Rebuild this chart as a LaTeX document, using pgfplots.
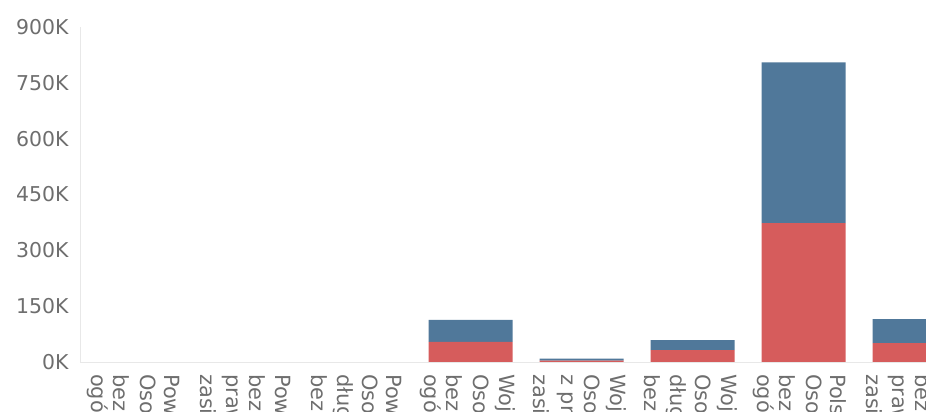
\documentclass[border=0pt]{standalone}
\usepackage{fontspec}
\setmainfont{DejaVu Sans}
\usepackage{pgfplots}
\pgfplotsset{compat=1.18}
\definecolor{barred}{HTML}{D65C5C}
\definecolor{barblue}{HTML}{50789A}
\definecolor{ticktext}{HTML}{6E6E6E}
\begin{document}
\begin{tikzpicture}
\begin{axis}[
    scale only axis,
    width=846bp, height=335bp,
    ybar stacked,
    bar width=0.757,
    xmin=-0.518, xmax=7.103,
    ymin=0, ymax=900,
    enlargelimits=false,
    axis x line*=bottom,
    axis y line*=left,
    axis line style={gray!18, line width=0.6bp},
    major tick length=0pt,
    ytick={0,150,300,450,600,750,900},
    yticklabels={0K,150K,300K,450K,600K,750K,900K},
    yticklabel style={font=\fontsize{20.5}{22}\selectfont, text=ticktext, xshift=-8bp},
    xtick={-0.36,-0.144,0.081,0.315,
           0.64,0.856,1.081,1.315,
           1.64,1.856,2.081,2.315,
           2.64,2.856,3.081,3.315,
           3.64,3.856,4.081,4.315,
           4.64,4.856,5.081,5.315,
           5.64,5.856,6.081,6.315,
           6.64,6.856,7.081,7.315},
    xticklabels={ogółem,bezrobotni,Osoby,Powiat,
                 zasiłek,prawo do zasiłku,bezrobotni,Powiat,
                 bezrobotni,długotrwale,Osoby,Powiat,
                 ogółem,bezrobotni,Osoby,Województwo,
                 zasiłek,z prawem,Osoby,Województwo,
                 bezrobotni,długotrwale,Osoby,Województwo,
                 ogółem,bezrobotni,Osoby,Polska,
                 zasiłek,prawo do zasiłku,bezrobotni,Polska},
    xticklabel style={rotate=-90, anchor=west, font=\fontsize{21}{22}\selectfont, text=ticktext, inner xsep=12bp},
]
% red part (thousands)
\addplot[fill=barred, draw=none] coordinates {
    (0,0) (1,0) (2,0) (3,54) (4,4) (5,32) (6,373) (7,51)};
% blue part (thousands)
\addplot[fill=barblue, draw=none] coordinates {
    (0,0) (1,0) (2,0) (3,59) (4,5) (5,27) (6,432) (7,64)};
\end{axis}
\pgfresetboundingbox
\path ([xshift=-80bp,yshift=-50bp]current axis.south west) rectangle ([yshift=27bp]current axis.north east);
\end{tikzpicture}
\end{document}
